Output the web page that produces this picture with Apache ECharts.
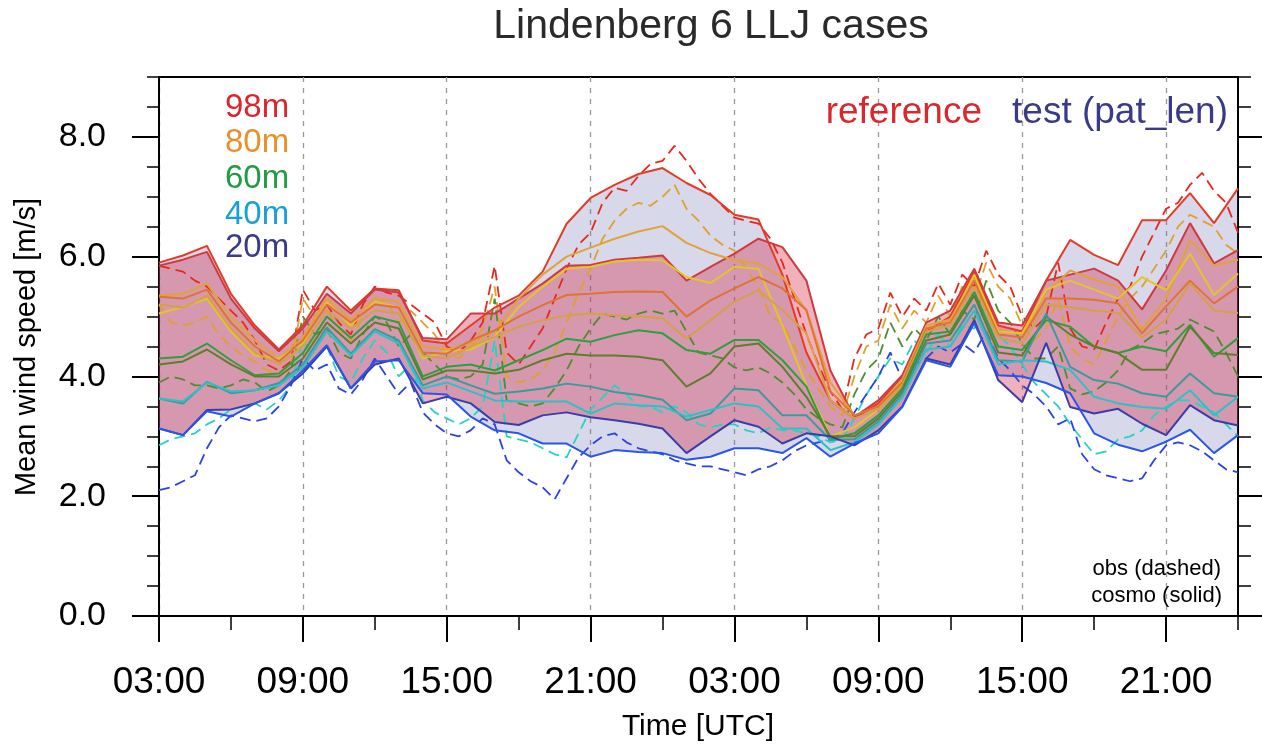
<!DOCTYPE html>
<html><head><meta charset="utf-8">
<script src="https://cdn.jsdelivr.net/npm/echarts@6/dist/echarts.min.js"></script>
<style>html,body{margin:0;padding:0;background:#fff}#c{width:1262px;height:744px}</style>
</head><body><div id="c"></div><script>
// ---------- axis ticks / labels ----------
const xTickHours = [0, 6, 12, 18, 24, 30, 36, 42];
const xTickLabels = ['03:00', '09:00', '15:00', '21:00', '03:00', '09:00', '15:00', '21:00'];
const yTickValues = [0, 2, 4, 6, 8];
const yTickLabels = ['0.0', '2.0', '4.0', '6.0', '8.0'];

// ---------- model hours (hours after 03:00 UTC of day 1) ----------
const modelHours = [0,1,2,3,4,5,6,7,8,9,10,11,12,13,14,15,16,17,18,19,20,21,22,23,24,25,26,27,28,29,30,31,32,33,34,35,36,37,38,39,40,41,42,43,44,45];

// ---------- model (cosmo, solid) ----------
const test98 = [5.9,6.02,6.18,5.38,4.85,4.45,4.85,5.5,5.1,5.47, 5.44,4.6,4.55,4.85,5.15,5.35,5.75,6.55,6.98,7.2, 7.38,7.48,7.23,7.03,6.7,6.62,5.7,4.4,3.6,3.3, 3.55,4.0,4.75,5.0,5.75,4.85,4.75,5.6,6.28,6.03, 5.86,6.61,6.61,7.06,6.56,7.14];
const ref98 = [5.85,5.95,6.08,5.3,4.8,4.42,4.8,5.38,5.05,5.45, 5.4,4.64,4.62,5.05,5.05,5.3,5.55,5.85,5.86,5.95, 5.98,6.02,5.6,5.83,6.05,6.3,6.16,5.6,4.1,3.32, 3.6,4.02,4.9,5.1,5.8,4.9,4.85,5.6,5.7,5.8, 5.6,5.12,5.77,6.56,5.89,6.11];
const test80 = [5.35,5.38,5.55,5.0,4.6,4.3,4.65,5.3,4.95,5.3, 5.25,4.5,4.45,4.55,4.75,5.3,5.7,6.0,6.15,6.3, 6.42,6.51,6.23,6.06,5.94,5.89,5.66,5.1,3.9,3.35, 3.5,3.95,4.85,4.95,5.65,4.78,4.7,5.4,5.77,5.61, 5.5,4.78,5.3,6.28,5.85,5.95];
const test70 = [5.05,5.16,5.3,4.75,4.35,4.3,4.55,5.24,4.85,5.25, 5.15,4.3,4.42,4.45,4.66,5.16,5.5,5.8,5.83,5.92, 5.95,5.94,5.66,5.56,5.83,5.8,4.85,3.85,3.0,3.15, 3.45,3.9,4.8,4.9,5.7,4.75,4.72,5.45,5.6,5.45, 5.3,5.66,5.44,6.05,5.36,5.72];
const ref80 = [5.33,5.3,5.45,4.9,4.5,4.25,4.6,5.2,4.9,5.2, 5.15,4.4,4.38,4.6,4.77,5.0,5.19,5.36,5.38,5.41, 5.42,5.41,5.0,5.27,5.47,5.66,5.47,5.11,3.75,3.35, 3.5,3.9,4.8,4.9,5.6,4.7,4.65,5.3,5.3,5.28, 5.22,4.72,5.17,5.6,5.22,5.5];
const ref70 = [5.2,5.15,5.35,4.8,4.4,4.2,4.5,5.1,4.8,5.1, 5.05,4.35,4.3,4.5,4.66,4.83,4.94,5.02,5.05,5.02, 5.0,4.97,4.63,4.94,5.25,5.44,5.11,4.72,3.6,3.3, 3.45,3.85,4.75,4.85,5.5,4.65,4.55,5.2,5.15,5.1, 5.06,4.65,4.95,5.55,5.1,5.06];
const test60 = [4.3,4.33,4.55,4.27,4.02,4.05,4.39,5.0,4.64,5.0, 4.9,4.0,4.16,4.2,4.1,4.27,4.44,4.63,4.58,4.69, 4.77,4.72,4.44,4.38,4.61,4.61,4.27,3.83,2.95,3.05, 3.35,3.8,4.7,4.75,5.41,4.5,4.44,4.94,4.83,4.5, 4.39,4.5,4.42,4.86,4.33,4.64];
const ref60 = [4.2,4.25,4.45,4.2,4.0,4.0,4.3,4.9,4.55,4.9, 4.8,3.95,4.1,4.1,4.05,4.11,4.27,4.38,4.35,4.35, 4.33,4.27,3.83,4.05,4.5,4.55,4.16,3.66,3.0,3.0, 3.3,3.75,4.6,4.7,5.35,4.4,4.35,5.0,4.7,4.5, 4.39,4.11,4.11,4.83,4.39,4.36];
const ref40 = [3.63,3.55,3.91,3.72,3.77,3.89,4.2,4.82,4.38,4.79, 4.6,3.85,4.0,3.85,3.71,3.75,3.8,3.88,3.83,3.74, 3.69,3.61,3.27,3.38,3.8,3.77,3.35,3.35,2.94,2.95, 3.25,3.7,4.55,4.6,5.2,4.27,4.25,5.05,4.16,3.94, 3.88,3.72,3.66,4.05,3.72,3.66];
const test40 = [3.63,3.58,3.9,3.75,3.77,3.85,4.15,4.75,4.35,4.75, 4.55,3.8,3.9,3.75,3.6,3.58,3.58,3.58,3.38,3.55, 3.52,3.5,3.33,3.44,3.55,3.5,3.13,3.13,2.77,2.9, 3.2,3.65,4.45,4.5,5.1,4.2,4.27,4.25,4.11,3.66, 3.55,3.49,3.46,3.77,3.35,3.66];
const ref20 = [3.13,3.02,3.44,3.45,3.55,3.72,4.05,4.5,3.8,4.2, 4.3,3.55,3.66,3.55,3.24,3.19,3.35,3.4,3.32,3.27, 3.21,3.13,2.72,3.0,3.27,3.16,2.88,3.05,3.0,2.85, 3.1,3.5,4.3,4.2,4.94,3.94,3.57,4.56,3.49,3.38, 3.46,3.21,3.02,3.52,3.27,3.18];
const test20 = [3.13,3.02,3.42,3.33,3.55,3.72,4.1,4.52,3.8,4.25, 4.27,3.72,3.7,3.33,3.1,3.05,2.88,2.88,2.66,2.77, 2.74,2.72,2.61,2.66,2.8,2.8,2.72,2.97,2.66,2.88, 3.05,3.49,4.27,4.16,4.89,4.02,4.0,3.89,3.72,3.05, 2.86,2.75,2.91,3.11,2.72,3.02];

// ---------- observations (dashed), every 30 min from 03:00 ----------
const obsStepHours = 0.5;
const obs98 = [5.85,5.8,5.75,5.6,5.5,5.3,5.1,4.9,4.6,4.2, 4.1,4.25,5.45,5.1,5.2,4.9,4.7,5.2,5.5,5.4, 5.35,5.2,5.05,4.9,4.5,4.4,4.6,4.9,5.85,4.4, 4.2,4.5,4.8,5.3,5.8,6.2,6.4,6.9,7.15,7.1, 7.35,7.55,7.6,7.85,7.6,7.3,7.05,6.85,6.65,6.6, 6.55,6.3,5.9,5.3,4.7,4.2,3.75,3.45,4.3,4.7, 4.8,5.4,5.0,5.3,5.1,5.55,5.2,5.7,5.5,6.1, 5.7,5.5,5.0,4.8,5.0,5.9,4.8,4.5,4.45,4.9, 5.3,5.5,6.0,6.4,6.8,6.9,7.2,7.4,7.1,6.9, 6.4];
const obs80 = [5.2,4.9,4.85,4.9,5.0,4.7,4.5,4.35,4.25,4.1, 4.05,4.2,5.3,5.0,5.1,4.8,4.6,5.0,5.3,5.25, 4.9,5.1,4.9,4.7,4.4,4.3,4.5,4.8,5.5,4.0, 3.9,3.95,4.1,4.4,4.9,5.4,5.8,6.3,6.6,6.8, 6.9,6.85,7.0,7.2,6.8,6.6,6.35,6.2,6.1,5.8, 5.5,5.0,4.9,4.5,4.1,3.8,3.5,3.35,4.0,4.5, 4.6,5.2,4.8,5.1,4.9,5.35,5.0,5.5,5.3,5.9, 5.5,5.3,4.85,4.6,4.8,5.3,4.5,4.3,4.2,4.6, 5.0,5.3,5.5,5.8,6.1,6.5,6.7,6.6,6.5,6.2, 6.05];
const obs60 = [3.9,4.0,3.95,3.85,3.85,3.8,3.85,3.95,3.9,3.75, 3.85,4.1,5.0,4.7,4.8,4.4,4.3,4.7,5.0,4.9, 4.5,4.7,4.4,4.2,4.0,3.95,4.0,4.2,5.3,3.6, 3.55,3.5,3.55,3.8,4.1,4.5,4.8,5.05,5.0,4.95, 5.05,5.1,5.05,5.1,4.75,4.4,4.35,4.3,4.15,4.1, 4.15,4.05,3.9,3.7,3.45,3.3,3.2,3.15,3.7,4.1, 4.3,4.9,4.5,4.8,4.6,5.0,4.7,5.1,4.95,5.6, 5.1,4.9,4.55,4.3,4.3,4.5,3.8,3.7,3.75,3.9, 4.1,4.45,4.55,4.7,4.75,4.8,4.95,4.85,4.75,4.4, 4.0];
const obs40 = [2.85,2.95,3.0,3.05,3.2,3.3,3.45,3.5,3.55,3.45, 3.6,3.85,4.6,4.3,4.5,4.0,3.9,4.3,4.6,4.4, 4.0,4.2,3.6,3.4,3.3,3.2,3.3,3.5,4.6,3.0, 2.95,2.9,2.8,2.7,2.65,3.05,3.45,3.65,3.85,3.7, 3.5,3.5,3.4,3.5,3.4,3.2,3.15,3.2,3.2,3.1, 3.05,3.15,3.1,3.1,3.05,3.0,2.9,2.95,3.3,3.7, 4.0,4.3,4.2,4.6,4.4,4.7,4.5,4.85,4.8,5.2, 4.7,4.5,4.2,3.9,3.7,3.5,3.2,2.95,2.7,2.75, 2.95,3.0,3.1,3.35,3.5,3.6,3.6,3.5,3.4,3.2, 3.0];
const obs20 = [2.1,2.15,2.25,2.35,2.8,3.15,3.35,3.3,3.25,3.3, 3.5,3.85,4.3,4.1,4.2,3.8,3.7,3.95,4.3,4.0, 3.7,3.9,3.4,3.2,3.05,3.0,3.1,3.3,3.2,2.6, 2.4,2.25,2.15,1.95,2.3,2.65,2.85,3.0,3.05,2.9, 2.8,2.75,2.7,2.6,2.55,2.5,2.5,2.45,2.4,2.35, 2.45,2.5,2.6,2.75,2.85,2.9,2.95,3.05,3.4,3.7, 4.0,4.4,3.95,4.2,4.3,4.5,4.4,4.55,4.4,4.75, 4.3,4.1,3.85,3.7,3.5,3.2,3.3,2.7,2.45,2.35, 2.3,2.25,2.3,2.6,2.85,2.9,2.85,2.75,2.6,2.45, 2.4];

// ---------- build ----------
const FONT = "'Liberation Sans', Arial, Helvetica, sans-serif";
const pairs = (hs, vs) => vs.map((v, i) => [hs[i], v]);
const obsPairs = vs => vs.map((v, i) => [i * obsStepHours, v]);

// filled band between two model curves, drawn with the chart's own scales (api.coord)
function band(top, bottom, color) {
  return {
    type: 'custom', silent: true, z: 1, clip: true,
    data: [[modelHours[0], top[0]]],
    encode: { x: 0, y: 1 },
    renderItem: (params, api) => {
      const pts = [];
      for (let i = 0; i < modelHours.length; i++) pts.push(api.coord([modelHours[i], top[i]]));
      for (let i = modelHours.length - 1; i >= 0; i--) pts.push(api.coord([modelHours[i], bottom[i]]));
      return { type: 'polygon', shape: { points: pts }, style: { fill: color } };
    }
  };
}
function model(vals, color) {
  return { type: 'line', data: pairs(modelHours, vals), symbol: 'none', silent: true,
    lineStyle: { color, width: 2 }, itemStyle: { color }, z: 4 };
}
function obs(vals, color) {
  return { type: 'line', data: obsPairs(vals), symbol: 'none', silent: true,
    lineStyle: { color, width: 1.8, type: [11, 6] }, itemStyle: { color }, z: 3 };
}

const series = [
  band(test98, test20, 'rgba(92,92,170,0.24)'),
  band(ref98, ref20, 'rgba(210,40,70,0.36)'),
  obs(obs98, '#e8281c'),
  obs(obs80, '#e0a02c'),
  obs(obs60, '#4f8c2e'),
  obs(obs40, '#26d2c4'),
  obs(obs20, '#2a44e0'),
  model(test98, '#e33b26'),
  model(ref98, '#cf3a3f'),
  model(test80, '#e2a23a'),
  model(test70, '#e4c42c'),
  model(ref80, '#e07234'),
  model(ref70, '#d6a048'),
  model(test60, '#2e9e3e'),
  model(ref60, '#5f7d2e'),
  model(ref40, '#3c9a9c'),
  model(test40, '#2cc0c8'),
  model(ref20, '#3b3ca6'),
  model(test20, '#2a55e6')
];

const black = { color: '#000', width: 2 };
const chart = echarts.init(document.getElementById('c'), null, { renderer: 'canvas' });
chart.setOption({
  animation: false,
  backgroundColor: '#fff',
  grid: { left: 159, right: 24, top: 77, bottom: 128, show: true, borderColor: '#000', borderWidth: 2, backgroundColor: 'transparent' },
  xAxis: [
    { type: 'value', min: 0, max: 45, interval: 6, position: 'bottom',
      axisLine: { show: true, lineStyle: black },
      axisTick: { show: true, length: 26, lineStyle: black, customValues: xTickHours },
      axisLabel: { show: true, customValues: xTickHours, margin: 48, fontSize: 37, color: '#000', fontFamily: FONT,
        formatter: v => { const i = xTickHours.indexOf(v); return i >= 0 ? xTickLabels[i] : ''; } },
      splitLine: { show: true, lineStyle: { color: '#9a9a9a', width: 1.3, type: [5, 6] } } },
    { type: 'value', min: 0, max: 45, interval: 3, position: 'bottom',
      axisLine: { show: false }, axisTick: { show: true, length: 14, lineStyle: { color: '#000', width: 1.5 } },
      axisLabel: { show: false }, splitLine: { show: false } }
  ],
  yAxis: [
    { type: 'value', min: 0, max: 9, interval: 2, position: 'left',
      axisLine: { show: true, lineStyle: black },
      axisTick: { show: true, length: 27, lineStyle: black, customValues: yTickValues },
      axisLabel: { show: true, customValues: yTickValues, margin: 53, fontSize: 34, color: '#000', fontFamily: FONT,
        formatter: v => { const i = yTickValues.indexOf(v); return i >= 0 ? yTickLabels[i] : ''; } },
      splitLine: { show: false } },
    { type: 'value', min: 0, max: 9, interval: 0.5, position: 'left',
      axisLine: { show: false }, axisTick: { show: true, length: 12, lineStyle: { color: '#000', width: 1.5 } },
      axisLabel: { show: false }, splitLine: { show: false } },
    { type: 'value', min: 0, max: 9, interval: 2, position: 'right',
      axisLine: { show: true, lineStyle: black },
      axisTick: { show: true, length: 24, lineStyle: black, customValues: yTickValues },
      axisLabel: { show: false }, splitLine: { show: false } },
    { type: 'value', min: 0, max: 9, interval: 0.5, position: 'right',
      axisLine: { show: false }, axisTick: { show: true, length: 13, lineStyle: { color: '#000', width: 1.5 } },
      axisLabel: { show: false }, splitLine: { show: false } }
  ],
  series,
  graphic: [
    { type: 'text', x: 711, y: 27, z: 100, silent: true, style: { text: 'Lindenberg 6 LLJ cases', fill: '#2a2a2a', font: '41px ' + FONT, textAlign: 'center', textVerticalAlign: 'middle' } },
    { type: 'text', x: 225, y: 108, z: 100, silent: true, style: { text: '98m', fill: '#d8282e', font: '33px ' + FONT, textAlign: 'left', textVerticalAlign: 'middle' } },
    { type: 'text', x: 225, y: 143, z: 100, silent: true, style: { text: '80m', fill: '#e8902a', font: '33px ' + FONT, textAlign: 'left', textVerticalAlign: 'middle' } },
    { type: 'text', x: 225, y: 179, z: 100, silent: true, style: { text: '60m', fill: '#239a44', font: '33px ' + FONT, textAlign: 'left', textVerticalAlign: 'middle' } },
    { type: 'text', x: 225, y: 215, z: 100, silent: true, style: { text: '40m', fill: '#1aa0d8', font: '33px ' + FONT, textAlign: 'left', textVerticalAlign: 'middle' } },
    { type: 'text', x: 225, y: 248, z: 100, silent: true, style: { text: '20m', fill: '#3a3a8a', font: '33px ' + FONT, textAlign: 'left', textVerticalAlign: 'middle' } },
    { type: 'text', x: 982, y: 113, z: 100, silent: true, style: { text: 'reference', fill: '#d8282e', font: '37px ' + FONT, textAlign: 'right', textVerticalAlign: 'middle' } },
    { type: 'text', x: 1228, y: 113, z: 100, silent: true, style: { text: 'test (pat_len)', fill: '#3a3a8a', font: '37px ' + FONT, textAlign: 'right', textVerticalAlign: 'middle' } },
    { type: 'text', x: 1221, y: 569, z: 100, silent: true, style: { text: 'obs (dashed)', fill: '#000', font: '22px ' + FONT, textAlign: 'right', textVerticalAlign: 'middle' } },
    { type: 'text', x: 1222, y: 596, z: 100, silent: true, style: { text: 'cosmo (solid)', fill: '#000', font: '22px ' + FONT, textAlign: 'right', textVerticalAlign: 'middle' } },
    { type: 'text', x: 698, y: 727, z: 100, silent: true, style: { text: 'Time [UTC]', fill: '#000', font: '30px ' + FONT, textAlign: 'center', textVerticalAlign: 'middle' } },
    { type: 'text', x: 27, y: 347, z: 100, rotation: Math.PI / 2, silent: true, style: { text: 'Mean wind speed [m/s]', fill: '#000', font: '29px ' + FONT, textAlign: 'center', textVerticalAlign: 'middle' } }
  ]
});
</script></body></html>
